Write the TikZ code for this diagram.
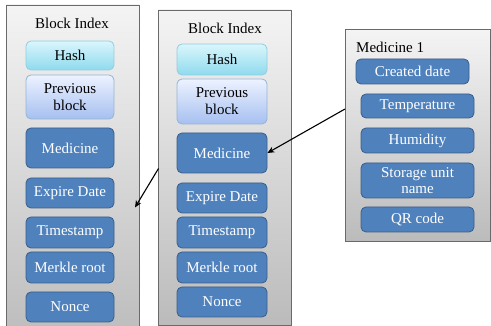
\documentclass[tikz,border=0pt]{standalone}
\usepackage{fontspec}
\setmainfont{Liberation Serif}
\usetikzlibrary{arrows.meta}
\definecolor{BoxBlue}{HTML}{4F81BD}
\definecolor{BoxBorder}{HTML}{385D8A}
\definecolor{PanelTop}{HTML}{F4F4F4}
\definecolor{PanelBot}{HTML}{BBBBBB}
\definecolor{PanelLine}{HTML}{6A6A6A}
\definecolor{HashTop}{HTML}{DAF6FC}
\definecolor{HashBot}{HTML}{8FDAEE}
\definecolor{HashLine}{HTML}{93CDDD}
\definecolor{PrevTop}{HTML}{EDF2FF}
\definecolor{PrevBot}{HTML}{A6C0F0}
\definecolor{PrevLine}{HTML}{95B3D7}
\tikzset{
  panel/.style={draw=PanelLine, line width=0.8pt, top color=PanelTop, bottom color=PanelBot, inner sep=0pt},
  txt/.style={font=\fontsize{15}{17}\selectfont, inner sep=0pt, align=center},
  dbox/.style={txt, draw=BoxBorder, fill=BoxBlue, text=white, rounded corners=5pt, line width=0.8pt},
  hbox/.style={txt, draw=HashLine, top color=HashTop, bottom color=HashBot, rounded corners=5pt, line width=0.8pt},
  pbox/.style={txt, draw=PrevLine, top color=PrevTop, bottom color=PrevBot, rounded corners=5pt, line width=0.8pt},
  arr/.style={line width=1.1pt, -{Stealth[length=7pt,width=6pt]}},
}
\begin{document}
\begin{tikzpicture}[x=1pt,y=-1pt]
\useasboundingbox (0,0) rectangle (491,326);
\clip (0,0) rectangle (491,326);
% panels
\node[panel, minimum width=133pt, minimum height=340pt] (p1) at (72.5,175) {};
\node[panel, minimum width=133pt, minimum height=315pt] (p2) at (224.5,167.5) {};
\node[panel, minimum width=145pt, minimum height=212pt] (p3) at (417.5,135.5) {};
% left block
\node[txt] (t1) at (72,23) {Block Index};
\node[hbox, minimum width=88pt, minimum height=29pt] (hash1) at (70,55.5) {Hash};
\node[pbox, minimum width=88pt, minimum height=44pt] (prev1) at (70,97) {Previous\\block};
\node[dbox, minimum width=88pt, minimum height=40pt] (med1) at (70,148) {Medicine};
\node[dbox, minimum width=88pt, minimum height=30pt] (exp1) at (70,193) {Expire Date};
\node[dbox, minimum width=88pt, minimum height=31pt] (ts1) at (70,232.5) {Timestamp};
\node[dbox, minimum width=88pt, minimum height=31pt] (mr1) at (70,267.5) {Merkle root};
\node[dbox, minimum width=88pt, minimum height=30pt] (non1) at (70,307) {Nonce};
% middle block
\node[txt] (t2) at (225,28) {Block Index};
\node[hbox, minimum width=90pt, minimum height=31pt] (hash2) at (222,59.5) {Hash};
\node[pbox, minimum width=90pt, minimum height=45pt] (prev2) at (222,101.5) {Previous\\block};
\node[dbox, minimum width=90pt, minimum height=40pt] (med2) at (222,153) {Medicine};
\node[dbox, minimum width=90pt, minimum height=30pt] (exp2) at (222,198) {Expire Date};
\node[dbox, minimum width=90pt, minimum height=31pt] (ts2) at (222,232.5) {Timestamp};
\node[dbox, minimum width=90pt, minimum height=31pt] (mr2) at (222,267.5) {Merkle root};
\node[dbox, minimum width=90pt, minimum height=30pt] (non2) at (222,302) {Nonce};
% right block
\node[txt, anchor=west] (t3) at (356,47) {Medicine 1};
\node[dbox, minimum width=113pt, minimum height=25pt] (cd) at (412.5,71.5) {Created date};
\node[dbox, minimum width=113pt, minimum height=24pt] (temp) at (417.5,106) {Temperature};
\node[dbox, minimum width=113pt, minimum height=25pt] (hum) at (417.5,140.5) {Humidity};
\node[dbox, minimum width=113pt, minimum height=35pt, font=\fontsize{15}{16}\selectfont] (stor) at (417.5,180.5) {Storage unit\\name};
\node[dbox, minimum width=113pt, minimum height=25pt] (qr) at (417.5,219.5) {QR code};
% arrows
\coordinate (a1s) at (158.5,168.5);
\coordinate (a1e) at (135,207.5);
\coordinate (a2s) at (345,109);
\draw[arr] (a1s) -- (a1e);
\draw[arr] (a2s) -- (med2.east);
\end{tikzpicture}
\end{document}
